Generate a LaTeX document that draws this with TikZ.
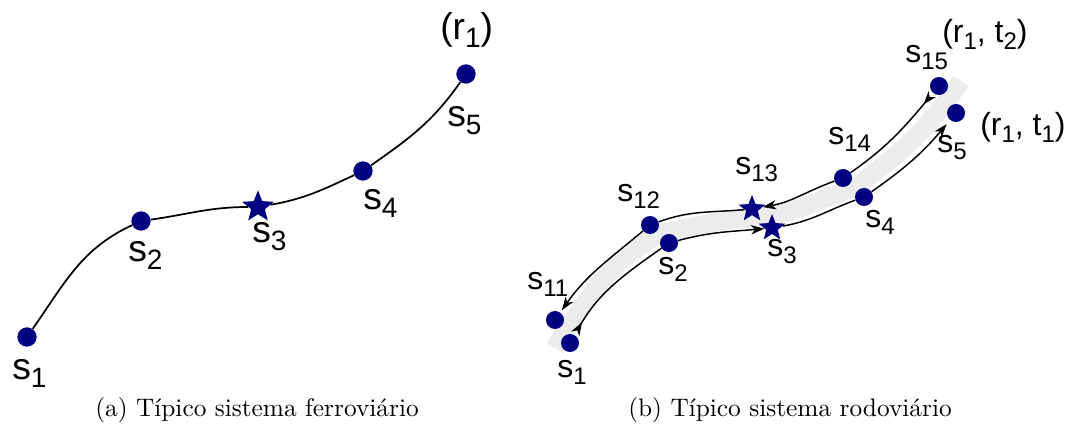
\documentclass[tikz,border=0pt]{standalone}
\usepackage{fontspec}
\setsansfont{Liberation Sans}
\newfontfamily\capfont{lmroman10-regular}[Extension=.otf]
\usetikzlibrary{shapes.geometric,arrows.meta}
\pgfdeclarelayer{bg}
\pgfsetlayers{bg,main}
\definecolor{dotblue}{RGB}{0,0,128}
\newcommand\lsub[1]{\raisebox{-6pt}{\fontsize{21}{21}\selectfont #1}}
\newcommand\rsub[1]{\raisebox{-5pt}{\fontsize{18}{18}\selectfont #1}}
\begin{document}
\begin{tikzpicture}[x=0.75pt,y=-0.75pt,
  dot/.style={circle,fill=dotblue,inner sep=0pt,minimum size=14.5pt},
  rdot/.style={circle,fill=dotblue,inner sep=0pt,minimum size=13.5pt},
  stopstar/.style={star,star points=5,star point ratio=2.3,fill=dotblue,inner sep=0pt,minimum size=25pt},
  rstopstar/.style={stopstar,minimum size=21pt},
  llab/.style={anchor=base west,inner sep=0pt,font=\sffamily\fontsize{28}{28}\selectfont},
  rlab/.style={anchor=base west,inner sep=0pt,font=\sffamily\fontsize{24}{24}\selectfont},
  rail/.style={line width=1.3pt,black},
  road/.style={line width=1.1pt,black},
  fwd/.tip={Stealth[length=10pt,width=7pt,inset=3pt]},
  bwd/.tip={Stealth[length=10pt,width=7pt,inset=3pt,reversed]},
  band/.style={line width=14pt,draw=gray!15},
  captext/.style={anchor=base,inner sep=0pt,font=\capfont\fontsize{19}{19}\selectfont}]
\useasboundingbox (0,0) rectangle (1075,434);

% ---------- (a) railway ----------
\node[dot] (ls1) at (27,337) {};
\node[dot] (ls2) at (141,221) {};
\node[stopstar] (ls3) at (258,207) {};
\node[dot] (ls4) at (363,171) {};
\node[dot] (ls5) at (466,74) {};
\draw[rail] (ls1) to[out=55,in=-155] (ls2) to[out=8,in=180] (ls3)
  to[out=10,in=-155] (ls4) to[out=35,in=-125] (ls5);
\node[llab] (la1) at (12,380) {s\lsub{1}};
\node[llab] (la2) at (128,262) {s\lsub{2}};
\node[llab] (la3) at (252,243) {s\lsub{3}};
\node[llab] (la4) at (363,210) {s\lsub{4}};
\node[llab] (la5) at (447,127) {s\lsub{5}};
\node[llab] (lr1) at (440,40) {(r\lsub{1})};

% ---------- (b) road ----------
\begin{pgfonlayer}{bg}
\draw[band] (555,348) to[out=57,in=-150] (659,234) to[out=12,in=-178] (760,218)
  to[out=10,in=-160] (853,188) to[out=35,in=-125] (961,81);
\end{pgfonlayer}
\node[rdot] (rs1) at (570,343) {};
\node[rdot] (rs2) at (669,243) {};
\node[rstopstar] (rs3) at (772,228) {};
\node[rdot] (rs4) at (864,197) {};
\node[rdot] (rs5) at (956,113) {};
\node[rdot] (rs11) at (555,320) {};
\node[rdot] (rs12) at (650,225) {};
\node[rstopstar] (rs13) at (752,209) {};
\node[rdot] (rs14) at (843,178) {};
\node[rdot] (rs15) at (939,86) {};

% route t1 (s1 -> s5)
\draw[road,bwd-,shorten <=1pt] (rs1) to[out=60,in=-145] (rs2);
\draw[road,-fwd] (rs2) to[out=15,in=-175] (rs3);
\draw[road] (rs3) to[out=10,in=-160] (rs4);
\draw[road,-fwd,shorten >=4pt] (rs4) to[out=35,in=-130] (rs5);
% route t2 (s15 -> s11)
\draw[road,bwd-,shorten <=1pt] (rs15) to[out=-130,in=35] (rs14);
\draw[road,-fwd] (rs14) to[out=-160,in=10] (rs13);
\draw[road] (rs13) to[out=-175,in=20] (rs12);
\draw[road,-fwd,shorten >=2pt] (rs12) to[out=-140,in=55] (rs11);

\node[rlab] (rb1) at (557,378) {s\rsub{1}};
\node[rlab] (rb2) at (658,275) {s\rsub{2}};
\node[rlab] (rb3) at (767,257) {s\rsub{3}};
\node[rlab] (rb4) at (865,228) {s\rsub{4}};
\node[rlab] (rb5) at (937,153) {s\rsub{5}};
\node[rlab] (rb11) at (527,290) {s\rsub{11}};
\node[rlab] (rb12) at (617,202) {s\rsub{12}};
\node[rlab] (rb13) at (735,175) {s\rsub{13}};
\node[rlab] (rb14) at (828,145) {s\rsub{14}};
\node[rlab] (rb15) at (905,63) {s\rsub{15}};
\node[rlab] (rt2) at (942,43) {(r\rsub{1}, t\rsub{2})};
\node[rlab] (rt1) at (980,136) {(r\rsub{1}, t\rsub{1})};

% ---------- captions ----------
\node[captext] (capa) at (257,417) {(a) Típico sistema ferroviário};
\node[captext] (capb) at (790,417) {(b) Típico sistema rodoviário};
\end{tikzpicture}
\end{document}
